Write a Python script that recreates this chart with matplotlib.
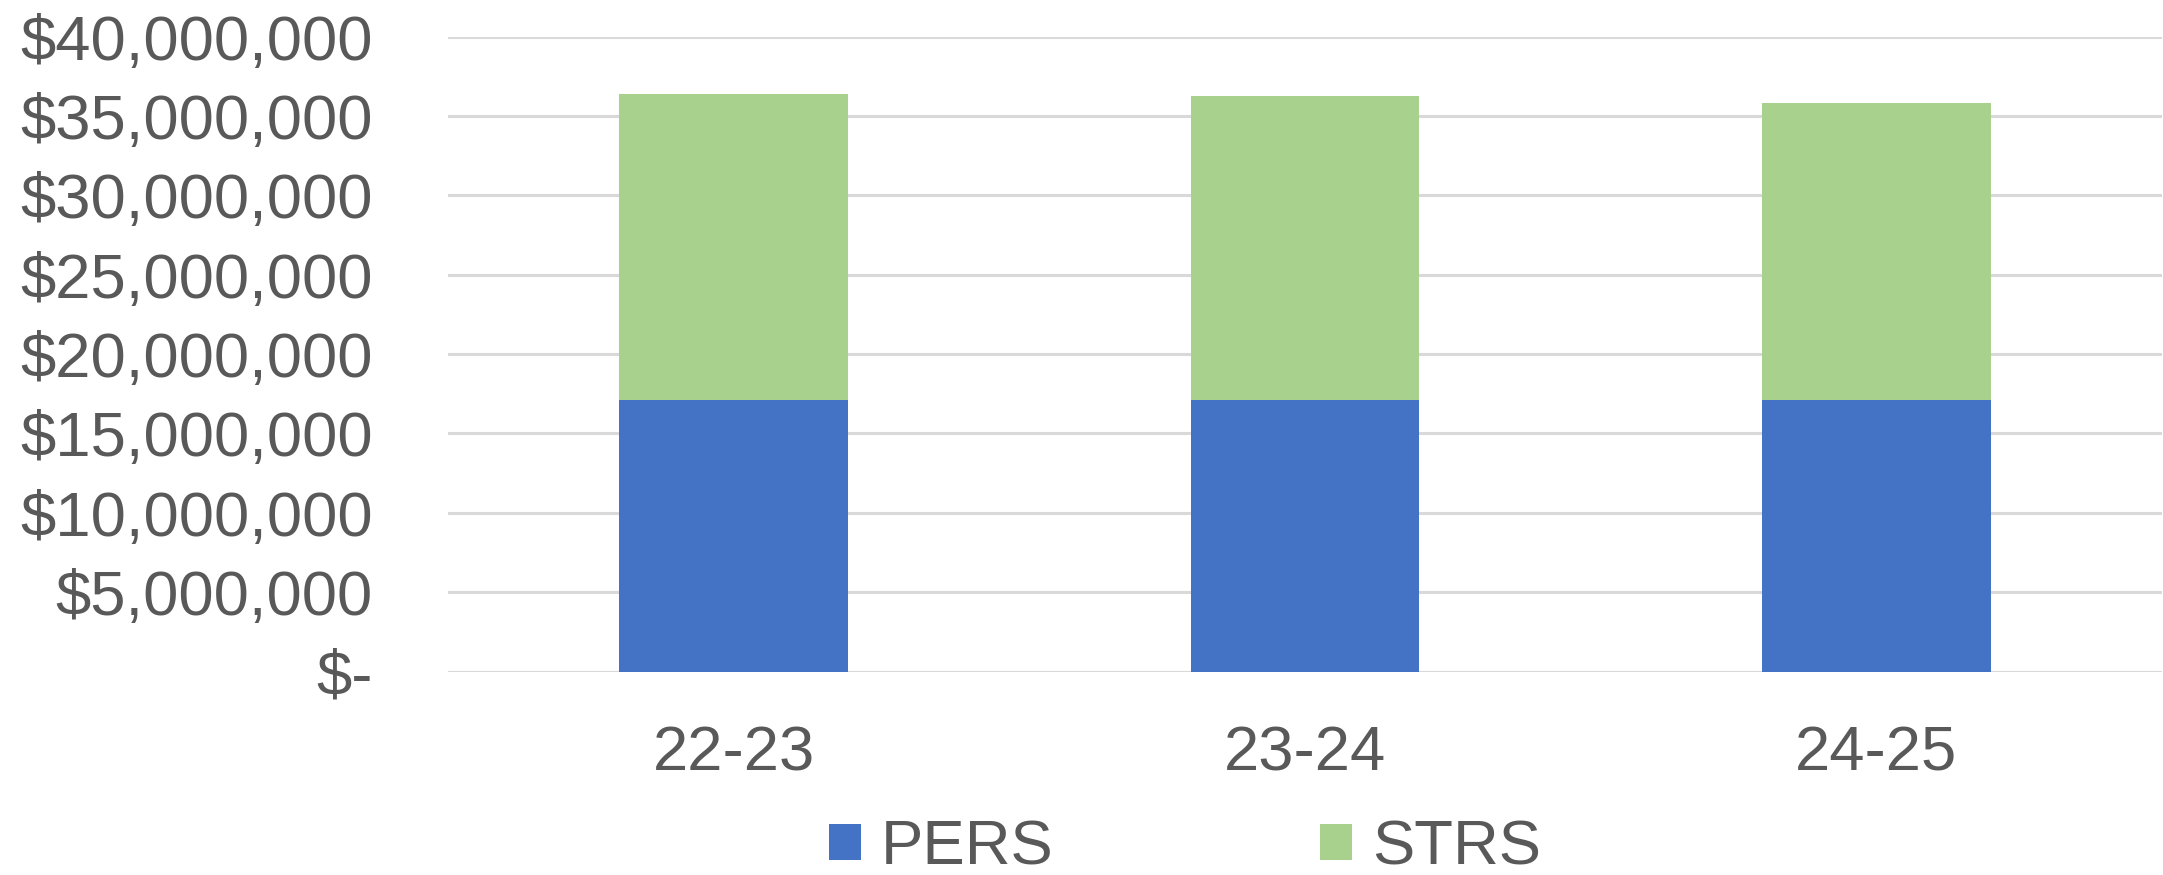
import matplotlib
matplotlib.use("Agg")
import matplotlib.pyplot as plt
from matplotlib.patches import Patch
from matplotlib.ticker import FixedLocator, FixedFormatter

# Data
years = ["22-23", "23-24", "24-25"]
pers = [17_100_000, 17_100_000, 17_100_000]
strs = [19_290_000, 19_160_000, 18_700_000]
y_ticks = [0, 5_000_000, 10_000_000, 15_000_000, 20_000_000,
           25_000_000, 30_000_000, 35_000_000, 40_000_000]
y_tick_labels = ["$-", "$5,000,000", "$10,000,000", "$15,000,000", "$20,000,000",
                 "$25,000,000", "$30,000,000", "$35,000,000", "$40,000,000"]
series_names = ["PERS", "STRS"]

BLUE = "#4472C4"
GREEN = "#A9D18E"
TEXT = "#595959"
GRID = "#D9D9D9"

plt.rcParams["font.family"] = ["Liberation Sans", "DejaVu Sans"]

W, H, DPI = 2163, 875, 100
fig = plt.figure(figsize=(W / DPI, H / DPI), dpi=DPI)
ax = fig.add_axes([448 / W, (H - 671.5) / H, (2162 - 448) / W, (671.5 - 36.7) / H])

x = list(range(len(years)))
ax.bar(x, pers, width=0.4, color=BLUE, zorder=3)
ax.bar(x, strs, width=0.4, bottom=pers, color=GREEN, zorder=3)

ax.set_xlim(-0.5, 2.5)
ax.set_ylim(0, 40_000_000)
ax.yaxis.set_major_locator(FixedLocator(y_ticks))
ax.yaxis.set_major_formatter(FixedFormatter(y_tick_labels))
ax.set_xticks(x)
ax.set_xticklabels(years)

ax.grid(axis="y", color=GRID, linewidth=2.2, zorder=0)
ax.set_axisbelow(True)
for s in ax.spines.values():
    s.set_visible(False)
ax.tick_params(axis="both", length=0, labelsize=45.6, labelcolor=TEXT)
ax.tick_params(axis="y", pad=54)
ax.tick_params(axis="x", pad=38)

handles = [Patch(facecolor=BLUE), Patch(facecolor=GREEN)]
fig.legend(handles, series_names, loc="center",
           bbox_to_anchor=(1185 / W, 1 - 848 / H), ncol=2, frameon=False,
           fontsize=45.6, labelcolor=TEXT, handlelength=0.5, handleheight=0.5,
           handletextpad=0.32, columnspacing=4.2, borderpad=0, borderaxespad=0)

fig.savefig("out.png", dpi=DPI, facecolor="white")
